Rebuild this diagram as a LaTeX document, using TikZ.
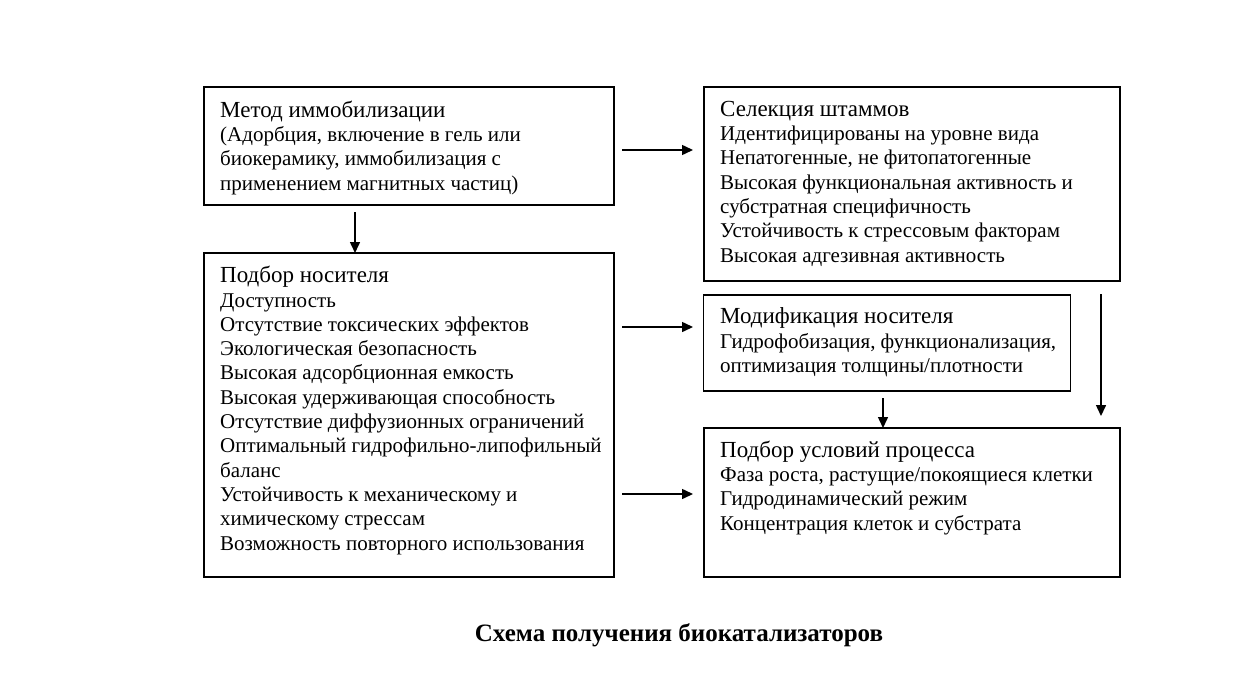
\documentclass[tikz,border=0pt]{standalone}
\usepackage{fontspec}
\setmainfont{Liberation Serif}
\usetikzlibrary{arrows.meta}
\newcommand{\ttl}[1]{{\fontsize{23}{24.3}\selectfont\rule{0pt}{22pt}#1}}
\begin{document}
\begin{tikzpicture}[x=1pt,y=-1pt,
  box/.style={draw,line width=1.5pt,inner sep=0pt},
  txt/.style={anchor=north west,align=left,inner sep=0pt,font=\fontsize{21}{24.3}\selectfont},
  arr/.style={line width=1.5pt,-{Triangle[length=11pt,width=10pt]}}]
\useasboundingbox (0,0) rectangle (1241,698);
\fill[white] (0,0) rectangle (1241,698);
% boxes
\node[box,minimum width=410pt,minimum height=118pt] (A) at (409,146) {};
\node[box,minimum width=416pt,minimum height=194pt] (B) at (912,184) {};
\node[box,minimum width=410pt,minimum height=324pt] (C) at (409,415) {};
\node[box,minimum width=367pt,minimum height=96pt] (D) at (887,343) {};
\node[box,minimum width=416pt,minimum height=149pt] (E) at (912,502.5) {};
% texts
\node[txt] (At) at (220,95) {\ttl{Метод иммобилизации}\\
(Адорбция, включение в гель или\\
биокерамику, иммобилизация с\\
применением магнитных частиц)};
\node[txt] (Bt) at (720,94) {\ttl{Селекция штаммов}\\
Идентифицированы на уровне вида\\
Непатогенные, не фитопатогенные\\
Высокая функциональная активность и\\
субстратная специфичность\\
Устойчивость к стрессовым факторам\\
Высокая адгезивная активность};
\node[txt] (Ct) at (220,260.5) {\ttl{Подбор носителя}\\
Доступность\\
Отсутствие токсических эффектов\\
Экологическая безопасность\\
Высокая адсорбционная емкость\\
Высокая удерживающая способность\\
Отсутствие диффузионных ограничений\\
Оптимальный гидрофильно-липофильный\\
баланс\\
Устойчивость к механическому и\\
химическому стрессам\\
Возможность повторного использования};
\node[txt] (Dt) at (720,301.5) {\ttl{Модификация носителя}\\
Гидрофобизация, функционализация,\\
оптимизация толщины/плотности};
\node[txt] (Et) at (720,435) {\ttl{Подбор условий процесса}\\
Фаза роста, растущие/покоящиеся клетки\\
Гидродинамический режим\\
Концентрация клеток и субстрата};
% arrow endpoints
\coordinate (a1) at (622,150); \coordinate (a2) at (693,150);
\coordinate (b1) at (355,212); \coordinate (b2) at (355,253);
\coordinate (c1) at (622,327); \coordinate (c2) at (693,327);
\coordinate (d1) at (622,494); \coordinate (d2) at (693,494);
\coordinate (e1) at (883,398); \coordinate (e2) at (883,428);
\coordinate (f1) at (1101,294); \coordinate (f2) at (1101,416);
\draw[arr] (a1) -- (a2);
\draw[arr] (b1) -- (b2);
\draw[arr] (c1) -- (c2);
\draw[arr] (d1) -- (d2);
\draw[arr] (e1) -- (e2);
\draw[arr] (f1) -- (f2);
% caption
\node[anchor=base,inner sep=0pt,font=\fontsize{25}{28}\selectfont\bfseries] (cap) at (679,641) {Схема получения биокатализаторов};
\end{tikzpicture}
\end{document}
